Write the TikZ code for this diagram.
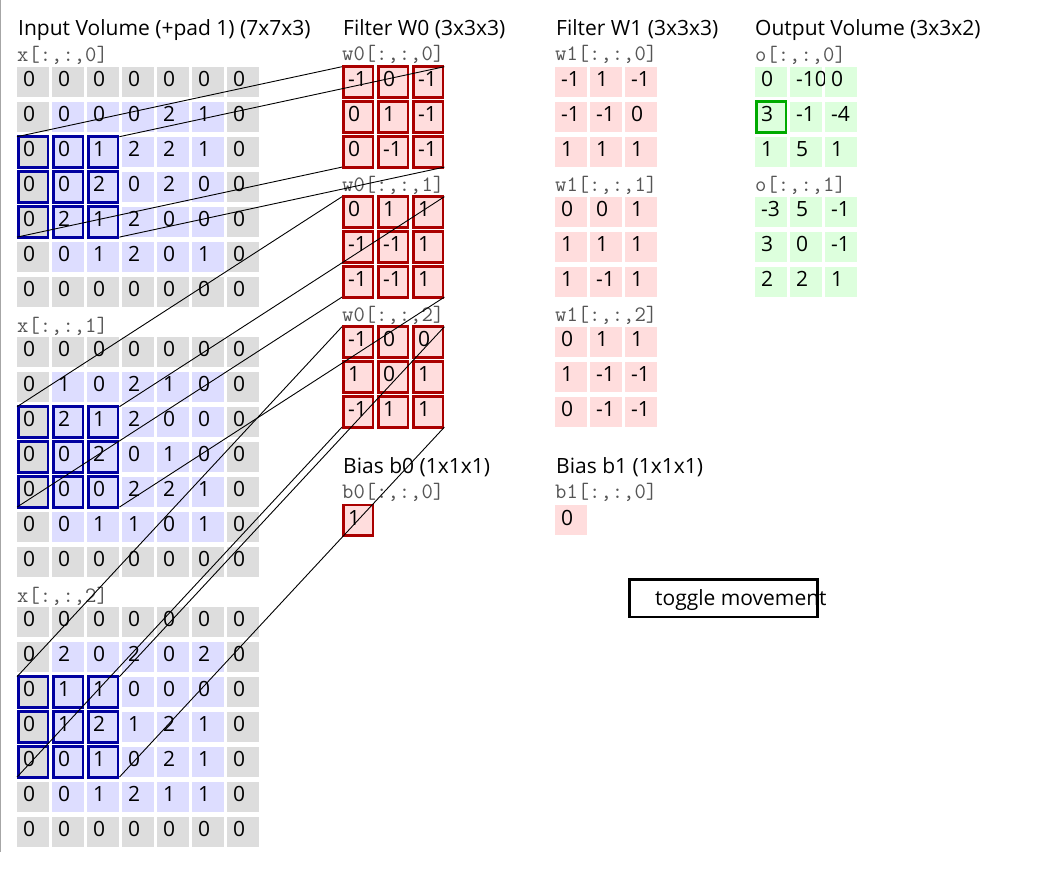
\documentclass[tikz,border=0pt]{standalone}
\usepackage{fontspec}
\setmainfont{Open Sans}
\definecolor{padgray}{HTML}{DDDDDD}
\definecolor{inblue}{HTML}{DDDDFF}
\definecolor{wred}{HTML}{FFDDDD}
\definecolor{ogreen}{HTML}{DDFFDD}
\definecolor{winblue}{HTML}{0000A0}
\definecolor{actred}{HTML}{AA0000}
\definecolor{actgreen}{HTML}{00AA00}
\definecolor{labgray}{HTML}{555555}
\begin{document}
\begin{tikzpicture}[x=1pt, y=-1pt,
    cell/.style={rectangle, anchor=north west, inner xsep=6pt, inner ysep=0pt, text width=20pt,
      minimum height=30pt, align=left, text height=15pt, text depth=5pt, font=\fontsize{21}{21}\selectfont},
    title/.style={anchor=base west, inner sep=0pt, font=\fontsize{21}{25}\selectfont},
    lab/.style={anchor=base west, inner sep=0pt, text=labgray, font=\ttfamily\fontsize{22}{22}\selectfont},
    hl/.style={draw=#1, line width=2.5pt}]
    \useasboundingbox (0,0) rectangle (1043,869);
    \fill[white] (0,0) rectangle (1043,869);
    \draw[gray!70, line width=1pt] (0.5,0) -- (0.5,852);
    % titles
    \node[title] (intitle) at (18,36) {Input Volume (+pad 1) (7x7x3)};
    \node[title] (w0title) at (343,36) {Filter W0 (3x3x3)};
    \node[title] (w1title) at (556,36) {Filter W1 (3x3x3)};
    \node[title] (otitle) at (755,36) {Output Volume (3x3x2)};
    % input volume, padded 7x7 slices
    \foreach \s/\rows in {0/{{0,0,0,0,0,0,0},{0,0,0,0,2,1,0},{0,0,1,2,2,1,0},{0,0,2,0,2,0,0},{0,2,1,2,0,0,0},{0,0,1,2,0,1,0},{0,0,0,0,0,0,0}},
        1/{{0,0,0,0,0,0,0},{0,1,0,2,1,0,0},{0,2,1,2,0,0,0},{0,0,2,0,1,0,0},{0,0,0,2,2,1,0},{0,0,1,1,0,1,0},{0,0,0,0,0,0,0}},
        2/{{0,0,0,0,0,0,0},{0,2,0,2,0,2,0},{0,1,1,0,0,0,0},{0,1,2,1,2,1,0},{0,0,1,0,2,1,0},{0,0,1,2,1,1,0},{0,0,0,0,0,0,0}}} {
      \node[lab] (xlab\s) at (17,62+270*\s) {x[:,:,\s]};
      \foreach \row [count=\r from 0] in \rows
        \foreach \v [count=\c from 0] in \row {
          \pgfmathtruncatemacro\ispad{(\r==0)||(\r==6)||(\c==0)||(\c==6)}
          \ifnum\ispad=1 \def\fillc{padgray}\else\def\fillc{inblue}\fi
          \node[cell, fill=\fillc] (x\s-\r-\c) at (17+35*\c,66.7+270*\s+35*\r) {\mbox{\v}};
        }
    }
    % filter W0 (the active one)
    \foreach \rows [count=\s from 0] in {{{-1,0,-1},{0,1,-1},{0,-1,-1}},{{0,1,1},{-1,-1,1},{-1,-1,1}},{{-1,0,0},{1,0,1},{-1,1,1}}} {
      \node[lab] (w0lab\s) at (342,61+130*\s) {w0[:,:,\s]};
      \foreach \row [count=\r from 0] in \rows
        \foreach \v [count=\c from 0] in \row
          \node[cell, fill=wred] (w0-\s-\r-\c) at (342+35*\c,66.7+130*\s+35*\r) {\mbox{\v}};
    }
    % filter W1
    \foreach \rows [count=\s from 0] in {{{-1,1,-1},{-1,-1,0},{1,1,1}},{{0,0,1},{1,1,1},{1,-1,1}},{{0,1,1},{1,-1,-1},{0,-1,-1}}} {
      \node[lab] (w1lab\s) at (555,61+130*\s) {w1[:,:,\s]};
      \foreach \row [count=\r from 0] in \rows
        \foreach \v [count=\c from 0] in \row
          \node[cell, fill=wred] (w1-\s-\r-\c) at (555+35*\c,66.7+130*\s+35*\r) {\mbox{\v}};
    }
    % output volume
    \foreach \rows [count=\s from 0] in {{{0,-10,0},{3,-1,-4},{1,5,1}},{{-3,5,-1},{3,0,-1},{2,2,1}}} {
      \node[lab] (olab\s) at (755,62+130*\s) {o[:,:,\s]};
      \foreach \row [count=\r from 0] in \rows
        \foreach \v [count=\c from 0] in \row
          \node[cell, fill=ogreen] (o-\s-\r-\c) at (755+35*\c,66.7+130*\s+35*\r) {\mbox{\v}};
    }
    % biases
    \node[title] (b0title) at (343,473) {Bias b0 (1x1x1)};
    \node[lab] (b0lab) at (342,498) {b0[:,:,0]};
    \node[cell, fill=wred] (b0) at (342,505) {1};
    \node[title] (b1title) at (556,473) {Bias b1 (1x1x1)};
    \node[lab] (b1lab) at (555,498) {b1[:,:,0]};
    \node[cell, fill=wred] (b1) at (555,505) {0};
    % highlight boxes, border kept inside the cell
    \foreach \s in {0,1,2}
      \foreach \r in {0,1,2}
        \foreach \c in {0,1,2} {
          \draw[hl=winblue] ([shift={(1.25,-0.25)}]x\s-\the\numexpr\r+2\relax-\c.north west)
            rectangle ([shift={(-1.25,0.25)}]x\s-\the\numexpr\r+2\relax-\c.south east);
          \draw[hl=actred] ([shift={(1.25,-0.25)}]w0-\s-\r-\c.north west)
            rectangle ([shift={(-1.25,0.25)}]w0-\s-\r-\c.south east);
        }
    \draw[hl=actred] ([shift={(1.25,-0.25)}]b0.north west) rectangle ([shift={(-1.25,0.25)}]b0.south east);
    \draw[hl=actgreen] ([shift={(1.25,-0.25)}]o-0-1-0.north west) rectangle ([shift={(-1.25,0.25)}]o-0-1-0.south east);
    % window corners to filter corners
    \foreach \s in {0,1,2} {
      \draw[line width=0.9pt] (x\s-2-0.north west) -- (w0-\s-0-0.north west);
      \draw[line width=0.9pt] (x\s-2-2.north east) -- (w0-\s-0-2.north east);
      \draw[line width=0.9pt] (x\s-4-0.south west) -- (w0-\s-2-0.south west);
      \draw[line width=0.9pt] (x\s-4-2.south east) -- (w0-\s-2-2.south east);
    }
    % button
    \node[draw, line width=2.5pt, minimum width=188pt, minimum height=37.5pt] (btn) at (723.5,598) {};
    \node[anchor=base west, inner sep=0pt, font=\fontsize{21}{25}\selectfont] (btntext) at (655,605) {toggle movement};
\end{tikzpicture}
\end{document}
